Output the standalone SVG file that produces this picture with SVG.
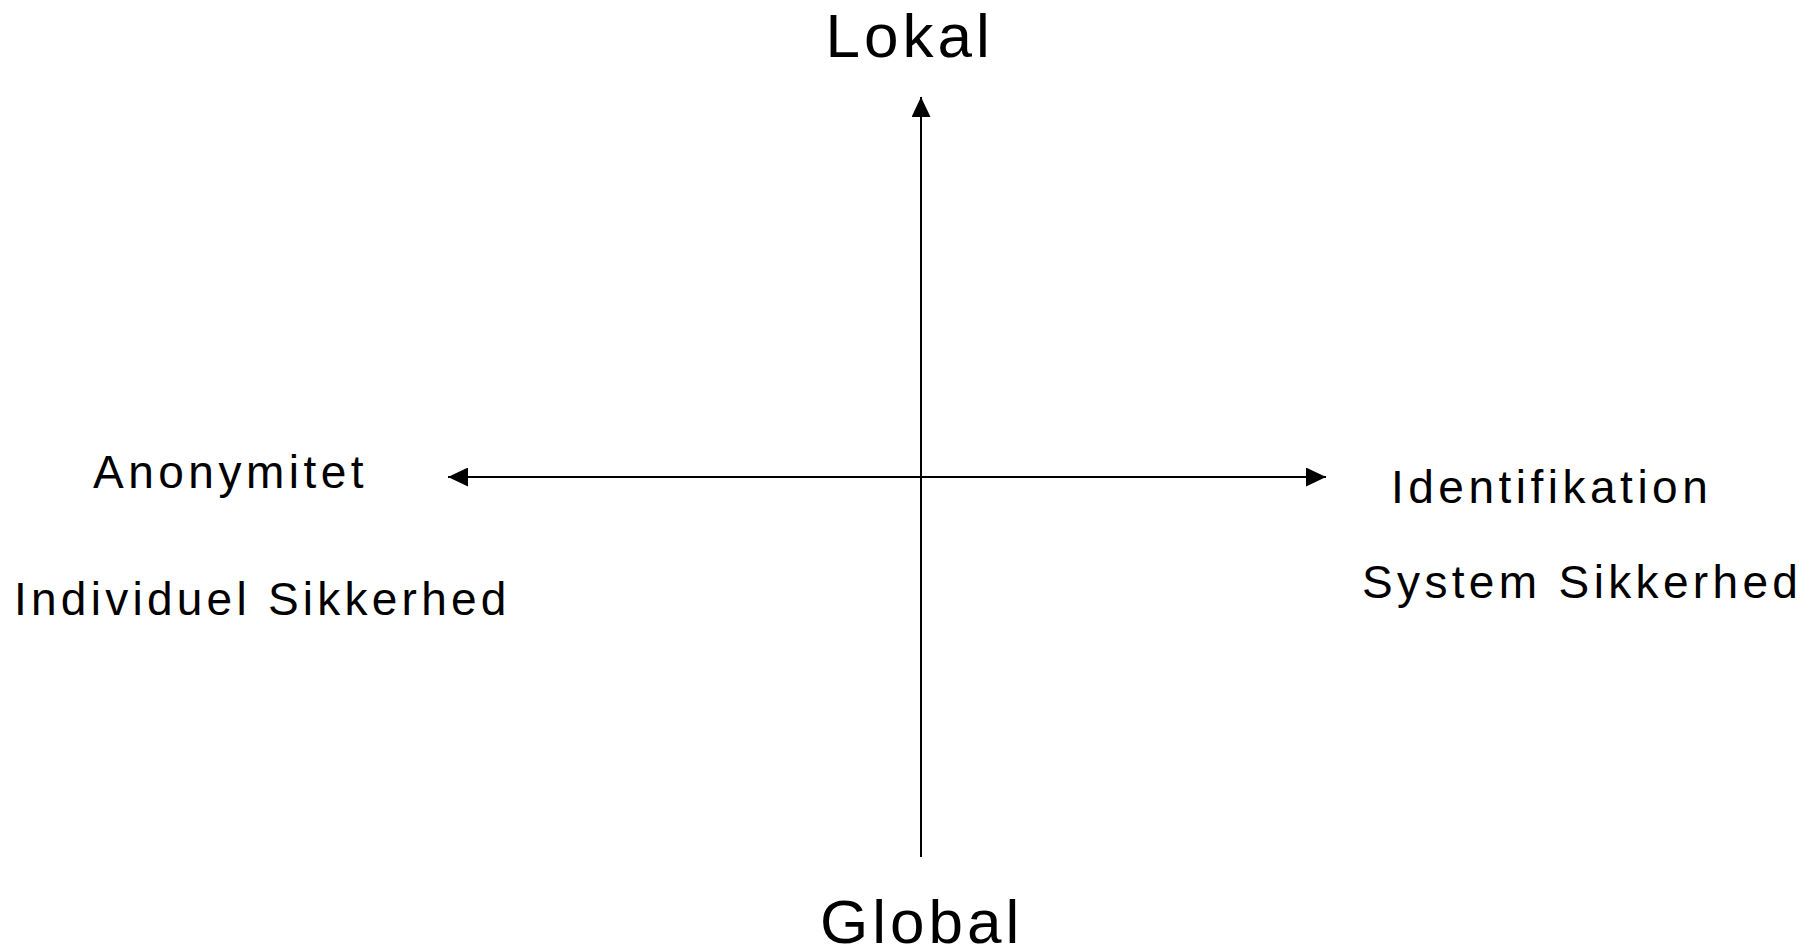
<svg xmlns="http://www.w3.org/2000/svg" width="1814" height="951" viewBox="0 0 1814 951">
<style>
text { font-family: "Liberation Sans", Arial, sans-serif; fill: #000; }
.big { font-size: 62px; letter-spacing: 4px; }
.lbl { font-size: 46px; letter-spacing: 4.5px; }
.ax { stroke: #000; stroke-width: 2; fill: none; }
</style>
<defs>
<marker id="ah" markerWidth="20" markerHeight="19" refX="20" refY="9.5" orient="auto" markerUnits="userSpaceOnUse">
<path d="M0,0 L20,9.5 L0,19 Z" fill="#000"/>
</marker>
</defs>
<rect width="1814" height="951" fill="#fff"/>
<g id="connectors">
<line class="ax" x1="921" y1="857" x2="921" y2="97" marker-end="url(#ah)"/>
<line class="ax" x1="921" y1="477" x2="448" y2="477" marker-end="url(#ah)"/>
<line class="ax" x1="921" y1="477" x2="1326" y2="477" marker-end="url(#ah)"/>
</g>
<g id="lokal"><text class="big" x="825.5" y="57">Lokal</text></g>
<g id="global"><text class="big" x="820" y="943">Global</text></g>
<g id="anonymitet"><text class="lbl" x="93" y="488">Anonymitet</text></g>
<g id="individuel"><text class="lbl" x="14" y="615" style="letter-spacing:4.25px">Individuel Sikkerhed</text></g>
<g id="identifikation"><text class="lbl" x="1391" y="503">Identifikation</text></g>
<g id="system"><text class="lbl" x="1362" y="598" style="letter-spacing:4.35px">System Sikkerhed</text></g>
</svg>
